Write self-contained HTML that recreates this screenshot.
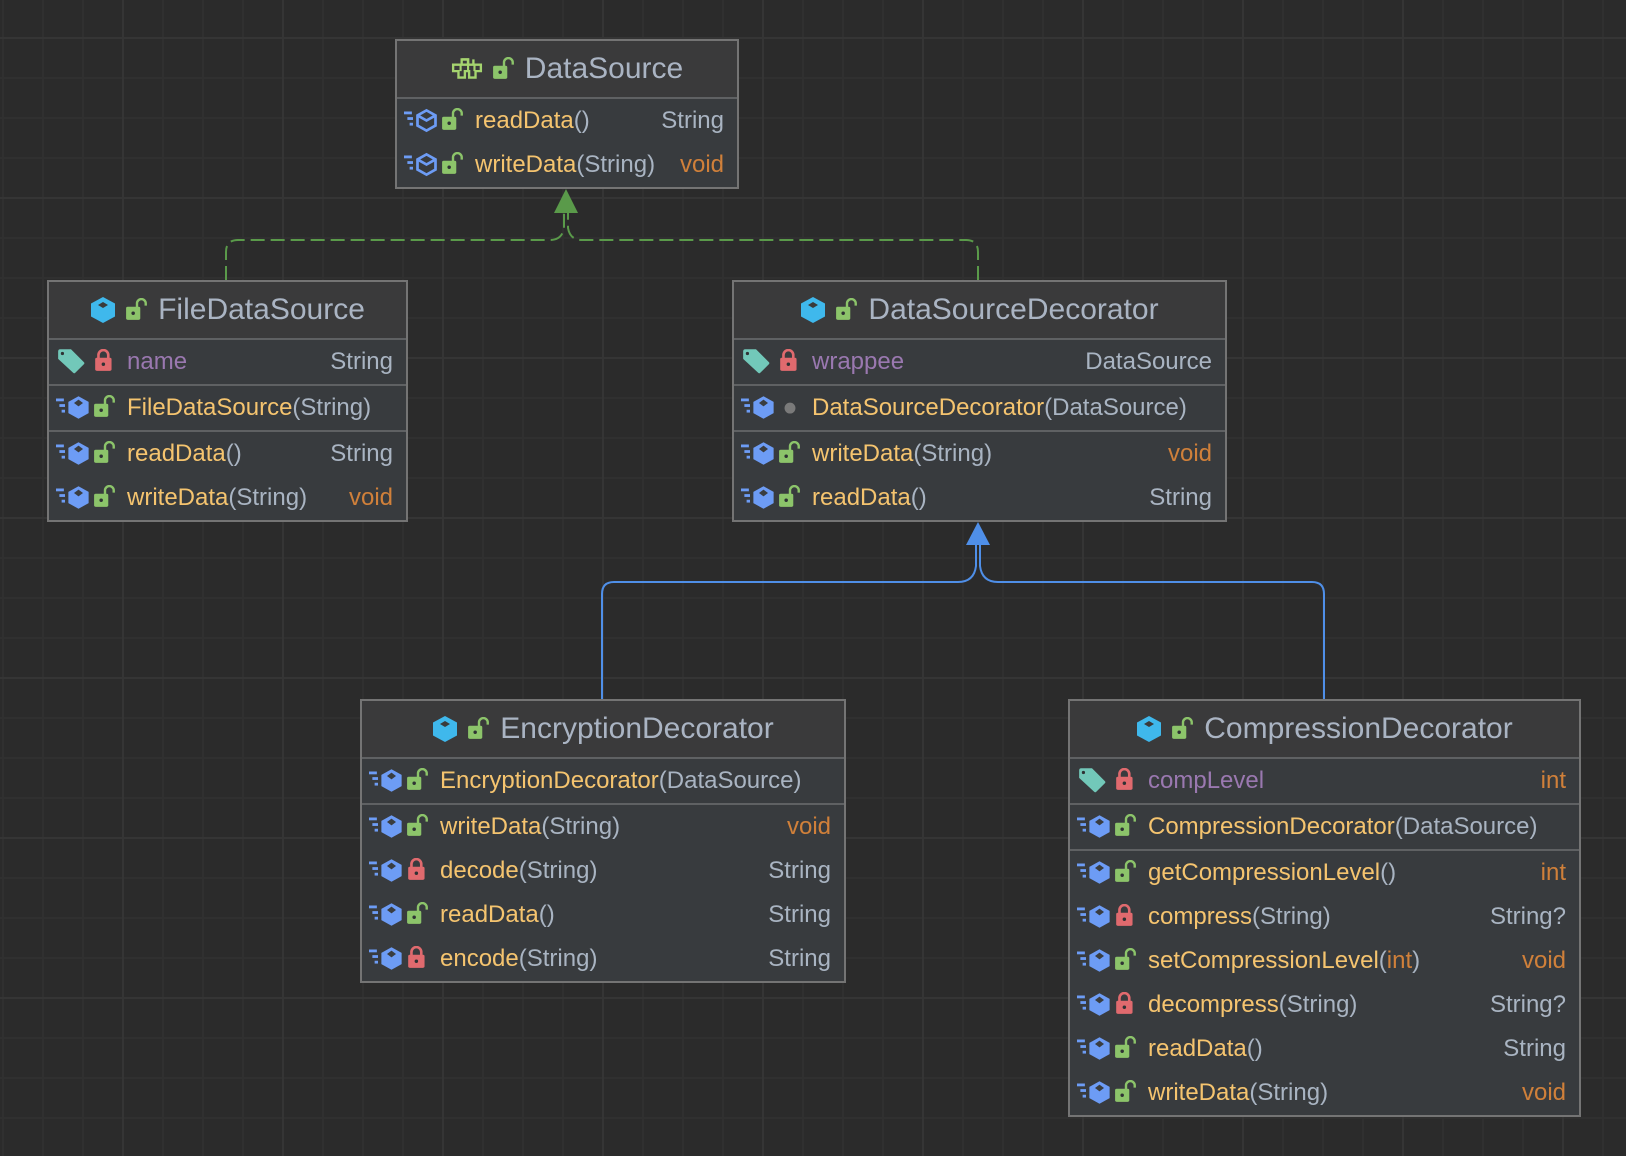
<!DOCTYPE html>
<html><head><meta charset="utf-8"><style>
html,body{margin:0;padding:0}
body{width:1626px;height:1156px;position:relative;overflow:hidden;background-color:#2b2b2b;
background-image:
linear-gradient(to right,#353535 2px,transparent 2px),
linear-gradient(to bottom,#353535 2px,transparent 2px),
linear-gradient(to right,#303030 2px,transparent 2px),
linear-gradient(to bottom,#303030 2px,transparent 2px);
background-size:160px 160px,160px 160px,40px 40px,40px 40px;
background-position:122px 0,0 37px,2px 0,0 37px;
font-family:"Liberation Sans",sans-serif;}
.box{position:absolute;border:2px solid #747474;background:#383b3e;box-sizing:border-box}
.hd{height:56px;background:#3a3a3b;display:flex;align-items:center;justify-content:center;border-bottom:2px solid #5f6163;color:#aab4c3;font-size:30px}
.hd svg{margin-right:10px}
.row{height:44px;position:relative;display:flex;align-items:center;font-size:24px;color:#a9b4c2;white-space:nowrap}
.sep{border-bottom:2px solid #5f6163}
.row .ic{position:absolute;left:7px;top:8px}
.row .lk{position:absolute;left:45px;top:9px}
.row .t{position:absolute;left:78px}
.row .r{position:absolute;right:13px}
.m{color:#f5c46f}.f{color:#9a78b0}.v{color:#d0803a}
</style></head><body>
<svg width="0" height="0" style="position:absolute">
<defs>
<symbol id="meth" viewBox="0 0 32 24"><rect x="0" y="4" width="7" height="2.5" fill="#6d9cf5"/><rect x="3" y="9" width="5" height="2.5" fill="#6d9cf5"/><rect x="5" y="14" width="3" height="2.5" fill="#6d9cf5"/><polygon points="20,2 29,7 29,17 20,22 11,17 11,7" fill="#6d9cf5"/><polygon points="20,5 24,8 20,11 16,8" fill="#3a3d40"/></symbol>
<symbol id="imeth" viewBox="0 0 32 24"><rect x="0" y="4" width="7" height="2.5" fill="#6d9cf5"/><rect x="3" y="9" width="5" height="2.5" fill="#6d9cf5"/><rect x="5" y="14" width="3" height="2.5" fill="#6d9cf5"/><polygon points="20,3 28,7.5 28,16.5 20,21 12,16.5 12,7.5" fill="none" stroke="#6d9cf5" stroke-width="2.4"/><polyline points="12,7.5 20,12 28,7.5 M20,12 20,21" fill="none" stroke="#6d9cf5" stroke-width="2.4"/></symbol>
<symbol id="open" viewBox="0 0 20 22"><rect x="0" y="8" width="13" height="12" rx="1.5" fill="#8cc46a"/><path d="M10,9 V5 a4,4 0 0 1 8,0 V7" fill="none" stroke="#8cc46a" stroke-width="2.2"/><circle cx="6.5" cy="14" r="1.6" fill="#2f3234"/></symbol>
<symbol id="closed" viewBox="0 0 20 22"><rect x="1" y="8" width="15" height="12" rx="1.5" fill="#e06a6e"/><path d="M4,9 V5.5 a4.5,4.5 0 0 1 9,0 V9" fill="none" stroke="#e06a6e" stroke-width="2.4"/><circle cx="8.5" cy="14" r="1.6" fill="#2f3234"/></symbol>
<symbol id="dot" viewBox="0 0 20 22"><circle cx="10" cy="12" r="5" fill="#7a7a7a"/></symbol>
<symbol id="cls" viewBox="0 0 26 28"><polygon points="13,1 25,7.5 25,20.5 13,27 1,20.5 1,7.5" fill="#3fb8ec"/><polygon points="13,6 18,9 13,12 8,9" fill="#3a3a3b"/></symbol>
<symbol id="tag" viewBox="0 0 28 24"><path d="M2,3 Q2,1 4,1 H14 L26,13 Q27,14 26,15 L18,23 Q17,24 16,23 L2,10 Z" fill="#72c8b9"/><circle cx="6" cy="5" r="1.5" fill="#2f3234"/></symbol>
<symbol id="intf" viewBox="0 0 30 22"><path d="M10,2h6v5h5v-5h0 M2,7h26v6h-5v6h-6v-6h-4v6h-6v-6h-5z" fill="none" stroke="#a5d46f" stroke-width="2.2"/><path d="M10,7v-5h6v5" fill="none" stroke="#a5d46f" stroke-width="2.2"/><path d="M9,7v6 M16,7v6 M22,7v6" stroke="#a5d46f" stroke-width="2"/></symbol>
</defs></svg>

<svg width="1626" height="1156" style="position:absolute;left:0;top:0">
<path d="M226,280 V252 Q226,240 238,240 H550 Q562,240 564,228 V212 M978,280 V252 Q978,240 966,240 H582 Q570,240 568,228 V212" fill="none" stroke="#5a9a4a" stroke-width="2" stroke-dasharray="14,6"/>
<polygon points="566,189 554,213 578,213" fill="#5a9a4a"/>
<path d="M602,699 V594 Q602,582 614,582 H958 Q974,582 976,566 V545 M1324,699 V594 Q1324,582 1312,582 H998 Q982,582 980,566 V545" fill="none" stroke="#4f8fe8" stroke-width="2"/>
<polygon points="978,522 966,545 990,545" fill="#4f8fe8"/>
</svg>

<div class="box" style="left:395px;top:39px;width:344px;height:150px">
<div class="hd"><svg width="32" height="24"><use href="#intf"/></svg><svg width="22" height="24"><use href="#open"/></svg>DataSource</div>
<div class="row"><svg class="ic" width="36" height="27"><use href="#imeth"/></svg><svg class="lk" width="22" height="24"><use href="#open"/></svg><span class="t m">readData<span style="color:#a9b4c2">()</span></span><span class="r">String</span></div>
<div class="row"><svg class="ic" width="36" height="27"><use href="#imeth"/></svg><svg class="lk" width="22" height="24"><use href="#open"/></svg><span class="t m">writeData<span style="color:#a9b4c2">(String)</span></span><span class="r v">void</span></div>
</div>

<div class="box" style="left:47px;top:280px;width:361px;height:242px">
<div class="hd"><svg width="26" height="28"><use href="#cls"/></svg><svg width="22" height="24"><use href="#open"/></svg>FileDataSource</div>
<div class="row sep"><svg class="ic" width="30" height="26"><use href="#tag"/></svg><svg class="lk" width="22" height="24"><use href="#closed"/></svg><span class="t f">name</span><span class="r">String</span></div>
<div class="row sep"><svg class="ic" width="36" height="27"><use href="#meth"/></svg><svg class="lk" width="22" height="24"><use href="#open"/></svg><span class="t m">FileDataSource<span style="color:#a9b4c2">(String)</span></span></div>
<div class="row"><svg class="ic" width="36" height="27"><use href="#meth"/></svg><svg class="lk" width="22" height="24"><use href="#open"/></svg><span class="t m">readData<span style="color:#a9b4c2">()</span></span><span class="r">String</span></div>
<div class="row"><svg class="ic" width="36" height="27"><use href="#meth"/></svg><svg class="lk" width="22" height="24"><use href="#open"/></svg><span class="t m">writeData<span style="color:#a9b4c2">(String)</span></span><span class="r v">void</span></div>
</div>

<div class="box" style="left:732px;top:280px;width:495px;height:242px">
<div class="hd"><svg width="26" height="28"><use href="#cls"/></svg><svg width="22" height="24"><use href="#open"/></svg>DataSourceDecorator</div>
<div class="row sep"><svg class="ic" width="30" height="26"><use href="#tag"/></svg><svg class="lk" width="22" height="24"><use href="#closed"/></svg><span class="t f">wrappee</span><span class="r">DataSource</span></div>
<div class="row sep"><svg class="ic" width="36" height="27"><use href="#meth"/></svg><svg class="lk" width="22" height="24"><use href="#dot"/></svg><span class="t m">DataSourceDecorator<span style="color:#a9b4c2">(DataSource)</span></span></div>
<div class="row"><svg class="ic" width="36" height="27"><use href="#meth"/></svg><svg class="lk" width="22" height="24"><use href="#open"/></svg><span class="t m">writeData<span style="color:#a9b4c2">(String)</span></span><span class="r v">void</span></div>
<div class="row"><svg class="ic" width="36" height="27"><use href="#meth"/></svg><svg class="lk" width="22" height="24"><use href="#open"/></svg><span class="t m">readData<span style="color:#a9b4c2">()</span></span><span class="r">String</span></div>
</div>

<div class="box" style="left:360px;top:699px;width:486px;height:284px">
<div class="hd"><svg width="26" height="28"><use href="#cls"/></svg><svg width="22" height="24"><use href="#open"/></svg>EncryptionDecorator</div>
<div class="row sep"><svg class="ic" width="36" height="27"><use href="#meth"/></svg><svg class="lk" width="22" height="24"><use href="#open"/></svg><span class="t m">EncryptionDecorator<span style="color:#a9b4c2">(DataSource)</span></span></div>
<div class="row"><svg class="ic" width="36" height="27"><use href="#meth"/></svg><svg class="lk" width="22" height="24"><use href="#open"/></svg><span class="t m">writeData<span style="color:#a9b4c2">(String)</span></span><span class="r v">void</span></div>
<div class="row"><svg class="ic" width="36" height="27"><use href="#meth"/></svg><svg class="lk" width="22" height="24"><use href="#closed"/></svg><span class="t m">decode<span style="color:#a9b4c2">(String)</span></span><span class="r">String</span></div>
<div class="row"><svg class="ic" width="36" height="27"><use href="#meth"/></svg><svg class="lk" width="22" height="24"><use href="#open"/></svg><span class="t m">readData<span style="color:#a9b4c2">()</span></span><span class="r">String</span></div>
<div class="row"><svg class="ic" width="36" height="27"><use href="#meth"/></svg><svg class="lk" width="22" height="24"><use href="#closed"/></svg><span class="t m">encode<span style="color:#a9b4c2">(String)</span></span><span class="r">String</span></div>
</div>

<div class="box" style="left:1068px;top:699px;width:513px;height:418px">
<div class="hd"><svg width="26" height="28"><use href="#cls"/></svg><svg width="22" height="24"><use href="#open"/></svg>CompressionDecorator</div>
<div class="row sep"><svg class="ic" width="30" height="26"><use href="#tag"/></svg><svg class="lk" width="22" height="24"><use href="#closed"/></svg><span class="t f">compLevel</span><span class="r v">int</span></div>
<div class="row sep"><svg class="ic" width="36" height="27"><use href="#meth"/></svg><svg class="lk" width="22" height="24"><use href="#open"/></svg><span class="t m">CompressionDecorator<span style="color:#a9b4c2">(DataSource)</span></span></div>
<div class="row"><svg class="ic" width="36" height="27"><use href="#meth"/></svg><svg class="lk" width="22" height="24"><use href="#open"/></svg><span class="t m">getCompressionLevel<span style="color:#a9b4c2">()</span></span><span class="r v">int</span></div>
<div class="row"><svg class="ic" width="36" height="27"><use href="#meth"/></svg><svg class="lk" width="22" height="24"><use href="#closed"/></svg><span class="t m">compress<span style="color:#a9b4c2">(String)</span></span><span class="r">String?</span></div>
<div class="row"><svg class="ic" width="36" height="27"><use href="#meth"/></svg><svg class="lk" width="22" height="24"><use href="#open"/></svg><span class="t m">setCompressionLevel<span style="color:#a9b4c2">(<span class="v">int</span>)</span></span><span class="r v">void</span></div>
<div class="row"><svg class="ic" width="36" height="27"><use href="#meth"/></svg><svg class="lk" width="22" height="24"><use href="#closed"/></svg><span class="t m">decompress<span style="color:#a9b4c2">(String)</span></span><span class="r">String?</span></div>
<div class="row"><svg class="ic" width="36" height="27"><use href="#meth"/></svg><svg class="lk" width="22" height="24"><use href="#open"/></svg><span class="t m">readData<span style="color:#a9b4c2">()</span></span><span class="r">String</span></div>
<div class="row"><svg class="ic" width="36" height="27"><use href="#meth"/></svg><svg class="lk" width="22" height="24"><use href="#open"/></svg><span class="t m">writeData<span style="color:#a9b4c2">(String)</span></span><span class="r v">void</span></div>
</div>
</body></html>
